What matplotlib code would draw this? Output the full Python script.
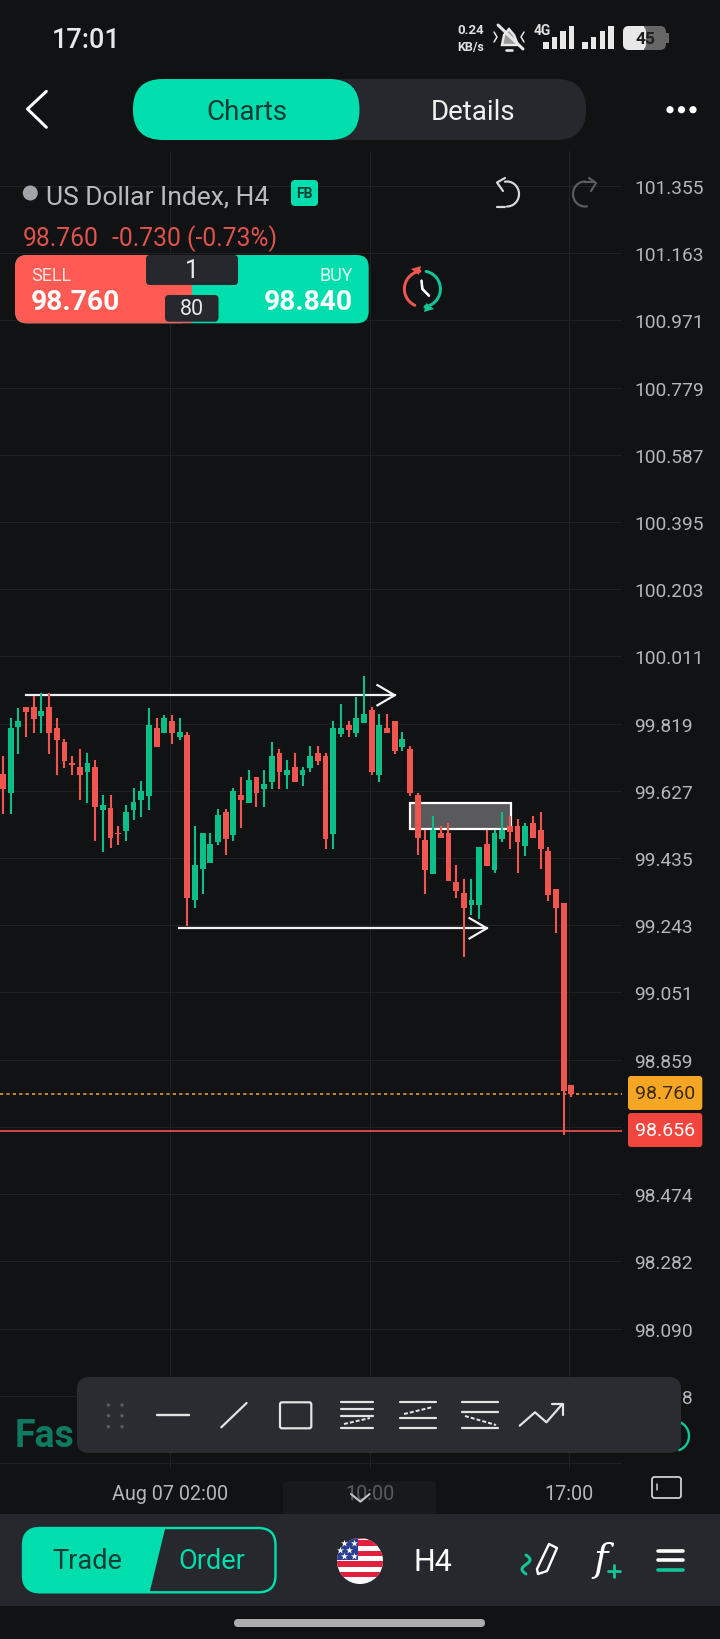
import matplotlib
matplotlib.use("Agg")
import matplotlib.pyplot as plt
import numpy as np
from matplotlib.patches import Circle, FancyBboxPatch, Polygon, Rectangle

plt.rcParams['font.family'] = ['Roboto', 'DejaVu Sans']

# ─── Data ──────────────────────────────────────────────────────────────────────
opens = [99.675, 99.621, 99.810, 99.865, 99.865, 99.840, 99.865, 99.806, 99.767, 99.706,
         99.696, 99.682, 99.696, 99.571, 99.577, 99.507, 99.511, 99.571, 99.601, 99.612,
         99.806, 99.792, 99.826, 99.780, 99.786, 99.314, 99.402, 99.421, 99.481, 99.566,
         99.501, 99.616, 99.591, 99.666, 99.632, 99.651, 99.736, 99.671, 99.696, 99.671,
         99.691, 99.736, 99.726, 99.502, 99.790, 99.815, 99.791, 99.821, 99.858, 99.671,
         99.805, 99.825, 99.751, 99.746, 99.615, 99.485, 99.390, 99.505, 99.505, 99.365,
         99.336, 99.301, 99.301, 99.476, 99.401, 99.490, 99.525, 99.525, 99.470, 99.535,
         99.516, 99.456, 99.345, 99.306, 98.786]
closes = [99.631, 99.806, 99.827, 99.852, 99.831, 99.856, 99.793, 99.771, 99.712, 99.701,
          99.671, 99.706, 99.581, 99.587, 99.491, 99.502, 99.566, 99.596, 99.626, 99.815,
          99.752, 99.836, 99.792, 99.796, 99.321, 99.416, 99.506, 99.476, 99.557, 99.490,
          99.626, 99.601, 99.657, 99.621, 99.646, 99.726, 99.680, 99.686, 99.651, 99.686,
          99.726, 99.711, 99.490, 99.805, 99.805, 99.801, 99.834, 99.845, 99.680, 99.815,
          99.792, 99.740, 99.776, 99.621, 99.492, 99.401, 99.516, 99.491, 99.370, 99.340,
          99.291, 99.315, 99.465, 99.411, 99.505, 99.516, 99.510, 99.481, 99.525, 99.491,
          99.461, 99.330, 99.291, 98.770, 98.760]
highs = [99.726, 99.834, 99.864, 99.865, 99.897, 99.905, 99.905, 99.834, 99.776, 99.726,
         99.747, 99.735, 99.716, 99.616, 99.616, 99.525, 99.585, 99.635, 99.656, 99.864,
         99.834, 99.844, 99.844, 99.834, 99.796, 99.525, 99.506, 99.506, 99.576, 99.576,
         99.635, 99.666, 99.685, 99.666, 99.685, 99.765, 99.745, 99.716, 99.736, 99.696,
         99.755, 99.755, 99.736, 99.825, 99.875, 99.825, 99.895, 99.954, 99.865, 99.845,
         99.845, 99.825, 99.796, 99.756, 99.622, 99.516, 99.556, 99.525, 99.535, 99.416,
         99.375, 99.375, 99.465, 99.516, 99.516, 99.565, 99.556, 99.545, 99.535, 99.556,
         99.565, 99.465, 99.345, 99.306, 98.786]
lows = [99.561, 99.561, 99.731, 99.782, 99.793, 99.793, 99.731, 99.673, 99.692, 99.673,
        99.602, 99.593, 99.482, 99.452, 99.462, 99.473, 99.482, 99.542, 99.552, 99.573,
        99.752, 99.792, 99.762, 99.772, 99.240, 99.292, 99.332, 99.421, 99.473, 99.442,
        99.482, 99.521, 99.591, 99.582, 99.582, 99.632, 99.632, 99.631, 99.651, 99.641,
        99.680, 99.701, 99.461, 99.461, 99.782, 99.782, 99.782, 99.821, 99.671, 99.652,
        99.792, 99.731, 99.741, 99.611, 99.442, 99.332, 99.390, 99.491, 99.370, 99.321,
        99.151, 99.272, 99.261, 99.411, 99.391, 99.481, 99.461, 99.391, 99.441, 99.491,
        99.402, 99.311, 99.221, 98.642, 98.752]

price_ticks = [101.355, 101.163, 100.971, 100.779, 100.587, 100.395, 100.203, 100.011, 99.819,
               99.627, 99.435, 99.243, 99.051, 98.859, 98.667, 98.474, 98.282, 98.090, 97.898, 97.706]
price_labels = ["101.355", "101.163", "100.971", "100.779", "100.587", "100.395", "100.203",
                "100.011", "99.819", "99.627", "99.435", "99.243", "99.051", "98.859", "",
                "98.474", "98.282", "98.090", "97.898", ""]
time_ticks = [21.75, 47.8, 73.7]
time_labels = ["Aug 07 02:00", "10:00", "17:00"]

last_price = 98.760
low_price = 98.656
top_level = 99.900
bottom_level = 99.234
box_prices = [99.518, 99.592]

# ─── Colours ───────────────────────────────────────────────────────────────────
BG = "#101214"
PANEL = "#26282e"
GRID = "#1f2124"
RED = "#f0564f"
GREEN = "#0cbf86"
MINT = "#00deae"
SALMON = "#ff5a54"
DARK_TXT = "#0c3b33"
AXIS_TXT = "#b4b6ba"

W, H = 720, 1640
fig = plt.figure(figsize=(W / 100, H / 100), dpi=100, facecolor=BG)


def px(v):
    return v * 0.72


# ─── Chart ─────────────────────────────────────────────────────────────────────
ax = fig.add_axes([0, (H - 1470) / H, 622 / W, (1470 - 152) / H], facecolor="none")
ax.set_xlim(-0.39, 80.6)
ax.set_ylim(97.689, 101.455)
for s in ax.spines.values():
    s.set_visible(False)
ax.yaxis.tick_right()
ax.set_yticks(price_ticks, price_labels)
ax.set_xticks(time_ticks, time_labels)
ax.tick_params(axis='y', length=0, pad=9, labelsize=13.8, labelcolor=AXIS_TXT)
ax.tick_params(axis='x', length=0, pad=10.5, labelsize=14.2, labelcolor=AXIS_TXT)
for t in ax.get_yticklabels():
    t.set_verticalalignment("center_baseline")
ax.grid(True, color=GRID, linewidth=0.8)
ax.set_axisbelow(True)

x = np.arange(len(opens))
o, c, hi, lo = map(np.array, (opens, closes, highs, lows))
colors = [GREEN if cl > op else RED for op, cl in zip(o, c)]

# marked zone goes under the candles
ax.add_patch(Rectangle((53, box_prices[0]), 13.1, box_prices[1] - box_prices[0],
                       facecolor="#5a5a5c", edgecolor="white", linewidth=px(2.2), zorder=2))
ax.vlines(x, lo, hi, colors=colors, linewidth=px(2.1), zorder=3)
ax.bar(x, np.abs(c - o), bottom=np.minimum(o, c), width=0.76, color=colors, linewidth=0, zorder=3)

# hand drawn arrows
for y_lvl, x0, tip in ((top_level, 2.96, 51.0), (bottom_level, 22.9, 63.0)):
    ax.plot([x0, tip], [y_lvl, y_lvl], color="#f2f2f2", lw=px(2.2), zorder=2.5)
    ax.plot([tip - 2.25, tip, tip - 2.25], [y_lvl + 0.029, y_lvl, y_lvl - 0.029],
            color="#f2f2f2", lw=px(2.2), zorder=2.5)

ax.axhline(last_price, color="#e8a52c", lw=px(1.6), dashes=(2, 2), zorder=2)
ax.axhline(low_price, color="#e0504a", lw=px(1.8), zorder=2)

# ─── Screen furniture, in pixel coords ─────────────────────────────────────────
ui = fig.add_axes([0, 0, 1, 1], facecolor="none")
ui.set_xlim(0, W)
ui.set_ylim(H, 0)
ui.axis("off")


def rbox(x0, y0, x1, y1, r, **kw):
    kw.setdefault("linewidth", 0)
    p = FancyBboxPatch((x0, y0), x1 - x0, y1 - y0, boxstyle=f"round,pad=0,rounding_size={r}", **kw)
    ui.add_patch(p)
    return p


def line(xs, ys, color="white", w=2.0, **kw):
    kw.setdefault("solid_capstyle", "round")
    kw.setdefault("solid_joinstyle", "round")
    ui.plot(xs, ys, color=color, lw=px(w), **kw)


def arc(cx, cy, rx, ry, a0, a1, color="white", w=2.0):
    t = np.radians(np.linspace(a0, a1, 40))
    line(cx + rx * np.cos(t), cy + ry * np.sin(t), color, w)


def label(x0, y0, s, size, color="white", ha="center", **kw):
    ui.text(x0, y0, s, fontsize=size, color=color, ha=ha, va="center", **kw)


# status bar
label(86, 41, "17:01", 19.5, "#e8e8e8", weight="medium")
label(471, 31, "0.24", 9.5, "#e0e0e0", weight="bold")
label(471, 47, "KB/s", 9, "#e0e0e0", weight="bold")
ui.add_patch(Polygon([[502, 46], [504, 36], [509, 30], [514, 36], [518, 46]], closed=True,
                     facecolor="#9a9a9a", edgecolor="#e8e8e8", lw=px(2.4)))
line([498, 523], [26, 50], "#e8e8e8", 3)
line([506, 512], [51, 51], "#e8e8e8", 2.6)
line([494, 497, 494], [33, 38, 43], "#e8e8e8", 1.5)
line([524, 521, 524], [33, 38, 43], "#e8e8e8", 1.5)
label(542, 31, "4G", 10, "#e0e0e0", weight="bold")
for i, h_bar in enumerate((7, 12, 18, 23)):
    ui.add_patch(Rectangle((543 + i * 8.5, 50 - h_bar), 5.5, h_bar, color="#e8e8e8", lw=0))
for i, h_bar in enumerate((7, 12, 18, 23)):
    ui.add_patch(Rectangle((582 + i * 8.8, 50 - h_bar), 5.5, h_bar, color="#e8e8e8", lw=0))
rbox(623, 27, 666, 51, 6, facecolor="#666666")
rbox(623, 27, 646, 51, 6, facecolor="#e8e8e8")
ui.add_patch(Rectangle((640, 27), 4, 24, color="#e8e8e8", lw=0))
ui.add_patch(Rectangle((666, 34), 3, 10, color="#666666", lw=0))
label(645, 39, "45", 12.5, "#202020", weight="bold")

# nav
line([46.4, 27.5, 46.4], [92.3, 110, 128.3], "white", 3)
rbox(133, 80, 586, 141, 30, facecolor=PANEL)
rbox(133, 80, 359.5, 141, 30, facecolor=MINT)
label(247, 113, "Charts", 20, DARK_TXT)
label(473, 113, "Details", 20, "#f0f0f0")
for xd in (670, 681.5, 693):
    ui.add_patch(Circle((xd, 110.7), 3.6, color="white", lw=0))

# symbol header
ui.add_patch(Circle((30.3, 194), 7.5, color="#a2a4aa", lw=0))
label(46, 197, "US Dollar Index, H4", 19, "#b9bbbf", ha="left")
rbox(291, 181, 318, 207, 4, facecolor=MINT)
label(304.5, 194.5, "FB", 10, DARK_TXT, weight="bold")

# undo / redo
arc(507, 195, 12, 12.5, -100, 90, "#d8d8d8", 2.2)
line([497, 505], [207.5, 207.5], "#d8d8d8", 2.2)
line([505, 497, 503], [179, 183.5, 192], "#d8d8d8", 2.2)
arc(585, 195, 12, 12.5, 80, 270, "#5a5c60", 2.2)
line([585, 593], [182.5, 182.5], "#5a5c60", 2.2)
line([589, 596, 591], [179, 184, 192], "#5a5c60", 2.2)

# quote line
label(23, 239, "98.760", 17.7, "#e2524c", ha="left")
label(112.5, 239, "-0.730 (-0.73%)", 17.7, "#e2524c", ha="left")

# sell / buy box
rbox(15, 256, 368.7, 324.3, 12, facecolor=MINT)
rbox(15, 256, 192, 324.3, 12, facecolor=SALMON)
ui.add_patch(Rectangle((180, 256), 11.5, 68.3, color=SALMON, lw=0))
rbox(146, 256, 238, 286, 4, facecolor=PANEL)
label(191.5, 271, "1", 18, "#e8e8e8")
rbox(165, 296, 218.5, 322.7, 4, facecolor=PANEL)
label(191.7, 309.5, "80", 15.5, "#e8e8e8")
label(31, 276, "SELL", 13, "#ffe6e2", ha="left")
label(31, 303, "98.760", 20.3, "white", ha="left", weight="bold")
label(352.6, 276, "BUY", 13, "#e2fff6", ha="right")
label(352.6, 303, "98.840", 20.3, "white", ha="right", weight="bold")

# clock swap icon
arc(422.4, 290, 18, 18, 115, 262, RED, 3)
arc(422.4, 290, 18, 18, -78, 82, "#12c596", 3)
ui.add_patch(Polygon([[411, 270], [421, 267], [419, 276]], closed=True, color=RED, lw=0))
ui.add_patch(Polygon([[434, 310], [424, 313], [426, 304]], closed=True, color="#12c596", lw=0))
line([421.5, 422.4, 429], [281.7, 290, 296.7], "white", 2.6)

# watermark + ring peeking out behind the toolbar
ui.text(15, 1437, "Fas", fontsize=27, color="#0e7a62", weight="bold", ha="left", va="center")
arc(674, 1437, 15, 15, -70, 70, "#12c596", 2.4)

# drawing toolbar
rbox(77, 1378, 681, 1454, 12, facecolor="#2a2c31", zorder=3)
TB = dict(zorder=4)
for xd in (108.4, 122):
    for yd in (1406, 1416.7, 1427.7):
        ui.add_patch(Circle((xd, yd), 1.7, color="#5a5c60", lw=0, **TB))
ICON = "#e4e4e4"
line([157, 189], [1416, 1416], ICON, 2.4, **TB)
line([221.3, 246.6], [1428.3, 1404], ICON, 2.2, **TB)
rbox(280, 1403.3, 311.3, 1429.3, 2, facecolor="none", edgecolor=ICON, linewidth=px(2.2), zorder=4)
for xa, xb, ys, dash in ((340.7, 373.3, (1403, 1410, 1417.3, 1429), ((344, 370), (1425, 1419))),
                         (400, 436, (1403, 1419, 1429), ((404, 433), (1415, 1408))),
                         (462, 498, (1403, 1413, 1429), ((465, 496), (1417, 1426)))):
    for yy in ys:
        line([xa, xb], [yy, yy], ICON, 2.2, **TB)
    ui.plot(dash[0], dash[1], color=ICON, lw=px(2), ls=(0, (2, 1)), zorder=4)
line([519.7, 535, 546.4, 562.4], [1426.7, 1413.3, 1423.3, 1405], ICON, 2.2, **TB)
line([552, 563, 563], [1405, 1405, 1416], ICON, 2.2, **TB)

# collapse tab + frame icon on the time axis
rbox(283, 1482, 436, 1530, 5, facecolor="#1c1e22", alpha=0.6)
line([351, 360.4, 369.6], [1495, 1502.7, 1495], "#c8c8c8", 2)
rbox(652, 1478, 681, 1499, 2.5, facecolor="none", edgecolor="#d0d0d0", linewidth=px(1.8))
line([656.6, 656.6], [1485, 1491], "#d0d0d0", 1.5)

# bottom bar
ui.add_patch(Rectangle((0, 1515), W, 92.3, color=PANEL, lw=0))
rbox(23, 1529, 275.5, 1593.3, 17, facecolor=PANEL, edgecolor=MINT, linewidth=px(2.4))
clip_btn = rbox(23, 1529, 275.5, 1593.3, 17, facecolor="none")
fill = Polygon([[20, 1526], [166, 1526], [149, 1596], [20, 1596]], closed=True, color=MINT, lw=0)
ui.add_patch(fill)
fill.set_clip_path(clip_btn)
label(87, 1562, "Trade", 19.5, DARK_TXT)
label(211.7, 1562, "Order", 19.5, MINT)

# flag
disc = Circle((360, 1562), 23, transform=ui.transData, facecolor="white", lw=0)
ui.add_patch(disc)
for i in range(4):
    s = Rectangle((336, 1546 + i * 10.5 - 5), 48, 5.5, color="#e0203c", lw=0)
    ui.add_patch(s)
    s.set_clip_path(disc)
s = Rectangle((336, 1537), 48, 3, color="#e0203c", lw=0)
ui.add_patch(s)
s.set_clip_path(disc)
canton = Rectangle((336, 1537), 22, 24, color="#2a3f8f", lw=0)
ui.add_patch(canton)
canton.set_clip_path(disc)
ui.scatter([344, 354, 340, 349, 344, 354], [1544, 1544, 1551, 1551, 1557, 1557],
           marker="*", s=28, color="white", linewidths=0, zorder=3)

label(433, 1563, "H4", 22, "white")

# pencil / function / menu icons
t_sq = np.linspace(0, 1, 30)
line(526 + 4 * np.sin(t_sq * 2 * np.pi), 1556 + t_sq * 19, "#12c596", 3)
ui.add_patch(Polygon([[549, 1545], [557, 1549], [547, 1572], [538, 1575], [537, 1570]], closed=True,
                     facecolor="none", edgecolor="white", lw=px(2.4), joinstyle="round"))
ui.text(601, 1561, "f", fontsize=28, color="white", style="italic", ha="center", va="center",
        family=["DejaVu Serif"])
line([608, 620], [1572, 1572], "#12c596", 2.8)
line([614, 614], [1566, 1578], "#12c596", 2.8)
line([658, 683], [1551.7, 1551.7], "white", 3.6)
line([658, 683], [1561, 1561], "white", 3.6)
line([658, 683], [1570.7, 1570.7], "#12c596", 3.6)

rbox(234, 1620, 485, 1628, 4, facecolor="#adadad")

# price tags sit above the chart lines
rbox(628, 1077, 702.3, 1111, 3, facecolor="#f5a623")
label(665, 1094, "98.760", 14, "#3a2a08")
rbox(628, 1114, 702.3, 1148, 3, facecolor="#f2453d")
label(665, 1131, "98.656", 14, "white")

fig.savefig("out.png", dpi=100, facecolor=BG)
